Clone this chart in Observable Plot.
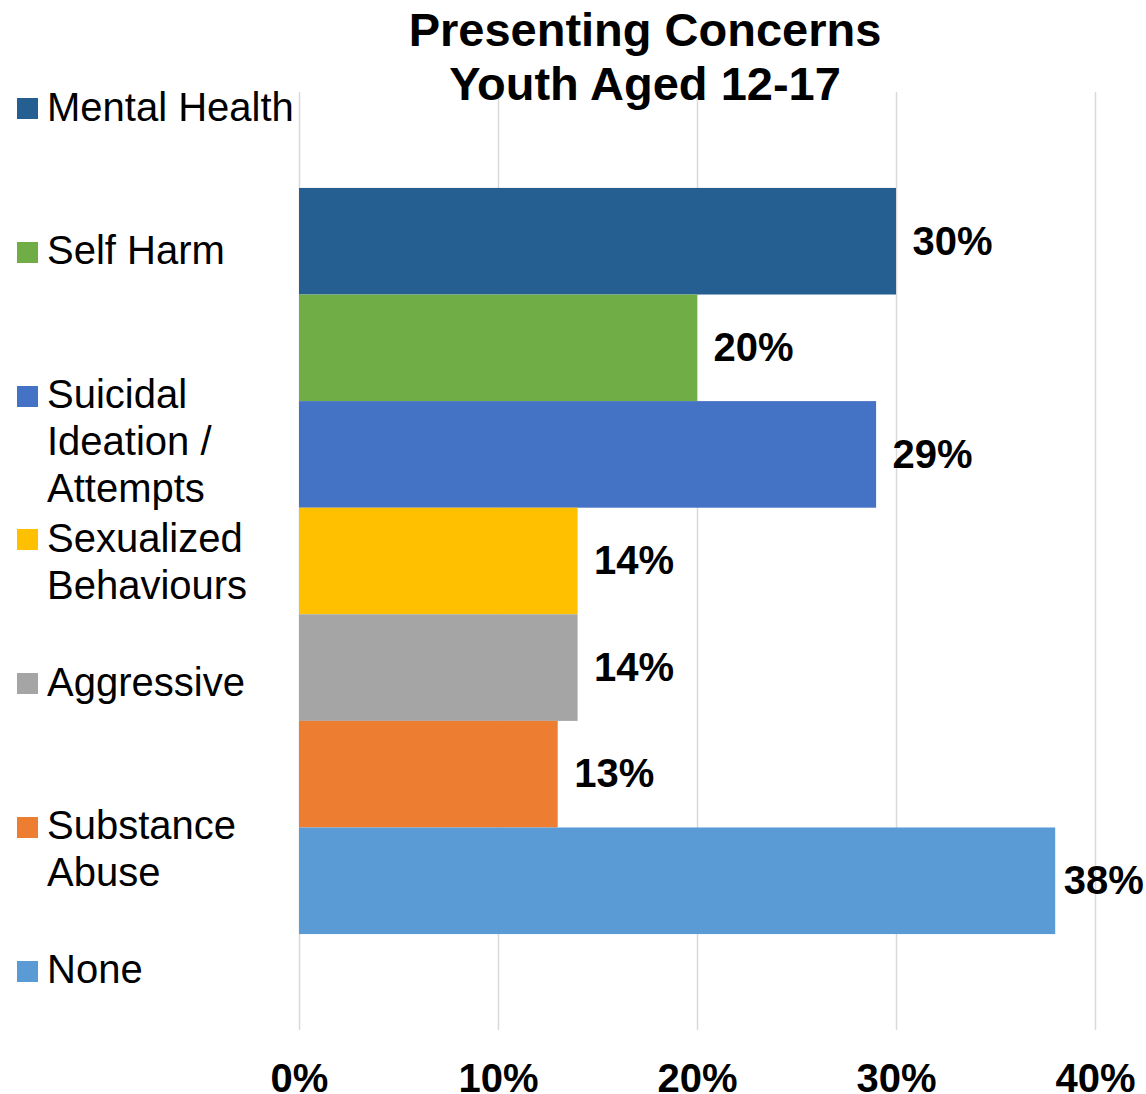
<!DOCTYPE html>
<html>
<head>
<meta charset="utf-8">
<script src="https://cdn.jsdelivr.net/npm/d3@7"></script>
<script src="https://cdn.jsdelivr.net/npm/@observablehq/plot@0.6"></script>
<style>
  body { margin: 0; background: #fff; }
  #wrap { position: relative; width: 1146px; height: 1094px; font-family: "Liberation Sans", Arial, sans-serif; color: #000; }
  #chart { position: absolute; left: 0; top: 0; }
  #title { position: absolute; left: 345px; width: 600px; top: 3px; text-align: center; font-weight: bold; font-size: 47px; line-height: 54px; }
  .item { position: absolute; left: 0; width: 300px; }
  .sw { position: absolute; left: 17px; top: 14.5px; width: 21px; height: 21px; }
  .lab { position: absolute; left: 47px; top: 0; width: 252px; font-size: 40px; line-height: 47px; }
</style>
</head>
<body>
<div id="wrap">
  <div id="chart"></div>
  <div id="title">Presenting Concerns<br>Youth Aged 12-17</div>
  <div id="legend"></div>
</div>
<script>
const categories = ["Mental Health", "Self Harm", "Suicidal Ideation / Attempts", "Sexualized Behaviours", "Aggressive", "Substance Abuse", "None"];
const values = [30, 20, 29, 14, 14, 13, 38];
const colors = ["#255E91", "#70AD47", "#4472C4", "#FFC000", "#A5A5A5", "#ED7D31", "#5B9BD5"];
const xTicks = [0, 10, 20, 30, 40];

const data = categories.map((c, i) => ({category: c, value: values[i]}));
const pct = d => d + "%";
const labelStyle = {x: "value", y: "category", text: d => pct(d.value), textAnchor: "start", fontSize: 40, fontWeight: "bold", fill: "#000"};

const chart = Plot.plot({
  width: 1146,
  height: 1094,
  marginTop: 92,
  marginBottom: 64,
  marginLeft: 299,
  marginRight: 51,
  style: {fontFamily: '"Liberation Sans", Arial, sans-serif', background: "transparent", color: "#000", overflow: "visible"},
  x: {domain: [0, 40], ticks: xTicks, tickFormat: pct, label: null},
  y: {domain: categories, paddingInner: 0, paddingOuter: 0.9, round: false, axis: null},
  color: {domain: categories, range: colors},
  marks: [
    Plot.gridX(xTicks, {stroke: "#D9D9D9", strokeOpacity: 1, strokeWidth: 1.5}),
    Plot.barX(data, {x: "value", y: "category", fill: "category"}),
    // labels that fit beside the bar
    Plot.text(data, {...labelStyle, filter: d => d.value < 35, dx: 16}),
    // label near the right edge is pulled in closer, as in the original
    Plot.text(data, {...labelStyle, filter: d => d.value >= 35, dx: 8}),
    Plot.axisX(xTicks, {anchor: "bottom", tickSize: 0, tickPadding: 33, fontSize: 40, fontWeight: "bold", tickFormat: pct, fill: "#000", label: null})
  ]
});
document.getElementById("chart").appendChild(chart);

// Legend (HTML, left side)
const legend = document.getElementById("legend");
const first = 108.5, step = 143.75;
categories.forEach((c, i) => {
  const item = document.createElement("div");
  item.className = "item";
  item.style.top = (first + i * step - 25) + "px";
  const sw = document.createElement("div");
  sw.className = "sw";
  sw.style.background = colors[i];
  const lab = document.createElement("div");
  lab.className = "lab";
  lab.textContent = c;
  item.appendChild(sw);
  item.appendChild(lab);
  legend.appendChild(item);
});
</script>
</body>
</html>
